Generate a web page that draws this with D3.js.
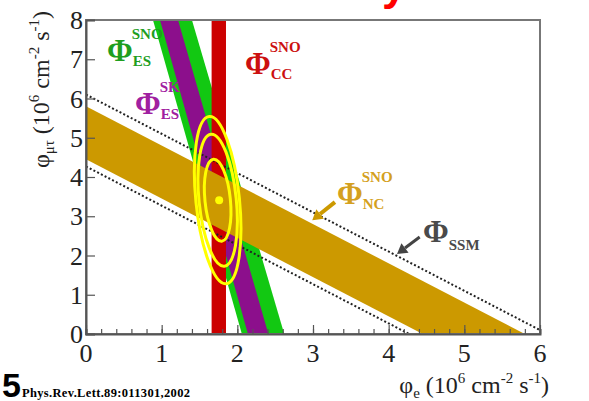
<!DOCTYPE html>
<html><head><meta charset="utf-8">
<script src="https://cdn.jsdelivr.net/npm/d3@7"></script>
<style>body{margin:0;background:#fff;overflow:hidden}svg{display:block}
text.serif, .serif tspan{font-family:'Liberation Serif', serif !important}
text.sans{font-family:'Liberation Sans', sans-serif !important}</style>
</head><body>
<script>
// ---- data ----
const xTicks = [0, 1, 2, 3, 4, 5, 6];
const yTicks = [0, 1, 2, 3, 4, 5, 6, 7, 8];
const ccBand = [1.66, 1.85];                       // SNO CC band in phi_e
const esSnoBottom = [2.06, 2.62], esSnoTop = [0.885, 1.40];   // phi_e at phi_mt=0 and 8
const esSkBottom = [2.14, 2.41], esSkTop = [0.978, 1.216];
const ncBand = [4.45, 5.80];                        // phi_e + phi_mt
const ssmLines = [4.27, 6.1];                       // dotted SSM bounds (phi_e + phi_mt)
const fitCenter = [1.74, 3.41];
const fitPoint = [1.76, 3.41];
const contourRx = [0.168, 0.246, 0.288];
const contourRy = [1.05, 1.69, 2.14];
const contourTilt = -5.8;

const W = 589, H = 401;
const m = {l: 86, r: 540, t: 20, b: 334};
const x = d3.scaleLinear().domain([0, 6]).range([m.l, m.r]);
const y = d3.scaleLinear().domain([0, 8]).range([m.b, m.t]);

const svg = d3.select("body").append("svg").attr("width", W).attr("height", H);
svg.append("defs").append("clipPath").attr("id", "clip")
  .append("rect").attr("x", m.l).attr("y", m.t).attr("width", m.r - m.l).attr("height", m.b - m.t);

// red title fragment at the top (cut by the top edge, as in the picture)
svg.append("text").attr("class", "sans").attr("x", 382).attr("y", 0)
  .attr("font-weight", "bold").attr("font-size", 44).attr("fill", "#ff0000").text("y");

const g = svg.append("g").attr("clip-path", "url(#clip)");
const line = d3.line().x(d => x(d[0])).y(d => y(d[1]));

// ES bands
g.append("path").attr("fill", "#12c812")
  .attr("d", line([[esSnoBottom[0], 0], [esSnoBottom[1], 0], [esSnoTop[1], 8], [esSnoTop[0], 8]]) + "Z");
g.append("path").attr("fill", "#8c0f8c")
  .attr("d", line([[esSkBottom[0], 0], [esSkBottom[1], 0], [esSkTop[1], 8], [esSkTop[0], 8]]) + "Z");
// CC band
g.append("rect").attr("fill", "#cc0000")
  .attr("x", x(ccBand[0])).attr("width", x(ccBand[1]) - x(ccBand[0]))
  .attr("y", y(8)).attr("height", y(0) - y(8));
// NC band
g.append("path").attr("fill", "#cc9900")
  .attr("d", line([[0, ncBand[0]], [ncBand[0], 0], [ncBand[1], 0], [0, ncBand[1]]]) + "Z");
// SSM dotted lines
ssmLines.forEach(c => {
  g.append("path").attr("fill", "none").attr("stroke", "#222").attr("stroke-width", 2)
    .attr("stroke-dasharray", "2,2.2").attr("d", line([[0, c], [c, 0]]));
});
// contours
contourRx.forEach((rx, i) => {
  g.append("ellipse").attr("cx", 0).attr("cy", 0)
    .attr("rx", x(rx) - x(0)).attr("ry", y(0) - y(contourRy[i]))
    .attr("transform", `translate(${x(fitCenter[0])},${y(fitCenter[1])}) rotate(${contourTilt})`)
    .attr("fill", "none").attr("stroke", "#ffff00").attr("stroke-width", 3);
});
g.append("circle").attr("cx", x(fitPoint[0])).attr("cy", y(fitPoint[1])).attr("r", 4).attr("fill", "#ffff00");

// frame
svg.append("rect").attr("x", m.l).attr("y", m.t).attr("width", m.r - m.l).attr("height", m.b - m.t)
  .attr("fill", "none").attr("stroke", "#777").attr("stroke-width", 2);

// axes with inward ticks
svg.append("g").attr("transform", `translate(0,${m.b})`)
  .call(d3.axisTop(x).tickValues(d3.range(0, 6.001, 0.2)).tickSize(5).tickFormat(""))
  .call(s => s.select(".domain").attr("stroke", "#555").attr("stroke-width", 2))
  .call(s => s.selectAll(".tick line").attr("stroke", "#555").attr("stroke-width", 1.2));
svg.append("g").attr("transform", `translate(0,${m.b})`)
  .call(d3.axisTop(x).tickValues(xTicks).tickSize(9).tickFormat(""))
  .call(s => s.select(".domain").remove())
  .call(s => s.selectAll(".tick line").attr("stroke", "#555").attr("stroke-width", 1.2));
svg.append("g").attr("transform", `translate(${m.l},0)`)
  .call(d3.axisRight(y).tickValues(yTicks).tickSize(9).tickFormat(""))
  .call(s => s.select(".domain").attr("stroke", "#555").attr("stroke-width", 2))
  .call(s => s.selectAll(".tick line").attr("stroke", "#555").attr("stroke-width", 1.2));

// tick labels
svg.selectAll(".xl").data(xTicks).enter().append("text").attr("class", "serif")
  .attr("x", d => x(d)).attr("y", 362).attr("text-anchor", "middle")
  .attr("font-size", 26).attr("fill", "#222").text(d => d);
svg.selectAll(".yl").data(yTicks).enter().append("text").attr("class", "serif")
  .attr("x", 83).attr("y", d => y(d) + 9).attr("text-anchor", "end")
  .attr("font-size", 26).attr("fill", "#222").text(d => d);

// axis titles
function title(t, sub) {
  t.append("tspan").text("φ");
  t.append("tspan").attr("font-size", 15).attr("dy", 5).text(sub);
  t.append("tspan").attr("dy", -5).text(" (10");
  t.append("tspan").attr("font-size", 15).attr("dy", -10).text("6");
  t.append("tspan").attr("dy", 10).text(" cm");
  t.append("tspan").attr("font-size", 15).attr("dy", -10).text("-2");
  t.append("tspan").attr("dy", 10).text(" s");
  t.append("tspan").attr("font-size", 15).attr("dy", -10).text("-1");
  t.append("tspan").attr("dy", 10).text(")");
}
const xt = svg.append("text").attr("class", "serif").attr("x", 549).attr("y", 393).attr("text-anchor", "end")
  .attr("font-size", 24).attr("fill", "#222");
title(xt, "e");
const yt = svg.append("text").attr("class", "serif").attr("transform", "translate(49,11) rotate(-90)")
  .attr("text-anchor", "end").attr("font-size", 24).attr("fill", "#222");
title(yt, "μτ");

// band labels
function phiLabel(px, py, color, sup, sub) {
  const t = svg.append("text").attr("class", "serif").attr("x", px).attr("y", py)
    .attr("font-weight", "bold").attr("font-size", 31).attr("fill", color).text("Φ");
  const w = t.node().getComputedTextLength();
  if (sup) svg.append("text").attr("class", "serif").attr("x", px + w - 1).attr("y", py - 22)
    .attr("font-weight", "bold").attr("font-size", 15).attr("fill", color).text(sup);
  svg.append("text").attr("class", "serif").attr("x", px + w).attr("y", py + (sup ? 5 : 8))
    .attr("font-weight", "bold").attr("font-size", 15).attr("fill", color).text(sub);
}
phiLabel(107, 61, "#1f9e1f", "SNO", "ES");
phiLabel(135, 114, "#a020a0", "SK", "ES");
phiLabel(245, 74, "#cc1010", "SNO", "CC");
phiLabel(337, 204, "#d4a020", "SNO", "NC");
phiLabel(423, 242, "#4a4a4a", null, "SSM");

// arrows
function arrow(from, to, color, w) {
  const x1 = x(from[0]), y1 = y(from[1]), x2 = x(to[0]), y2 = y(to[1]);
  const ang = Math.atan2(y2 - y1, x2 - x1), L = 10, hw = 6;
  const bx = x2 - L * Math.cos(ang), by = y2 - L * Math.sin(ang);
  svg.append("line").attr("x1", x1).attr("y1", y1).attr("x2", bx).attr("y2", by)
    .attr("stroke", color).attr("stroke-width", w);
  svg.append("path").attr("fill", color).attr("d",
    `M${x2},${y2}L${bx - hw * Math.sin(ang)},${by + hw * Math.cos(ang)}L${bx + hw * Math.sin(ang)},${by - hw * Math.cos(ang)}Z`);
}
arrow([3.29, 3.36], [2.99, 2.90], "#cc9900", 4);
arrow([4.41, 2.47], [4.11, 2.04], "#444", 3);

// bottom-left reference
svg.append("text").attr("class", "sans").attr("x", 2).attr("y", 397)
  .attr("font-weight", "bold").attr("font-size", 34).attr("fill", "#000").text("5");
svg.append("text").attr("class", "serif").attr("x", 22).attr("y", 397)
  .attr("font-weight", "bold").attr("font-size", 12.5).attr("fill", "#000").attr("textLength", 168)
  .text("Phys.Rev.Lett.89:011301,2002");
</script>
</body></html>
